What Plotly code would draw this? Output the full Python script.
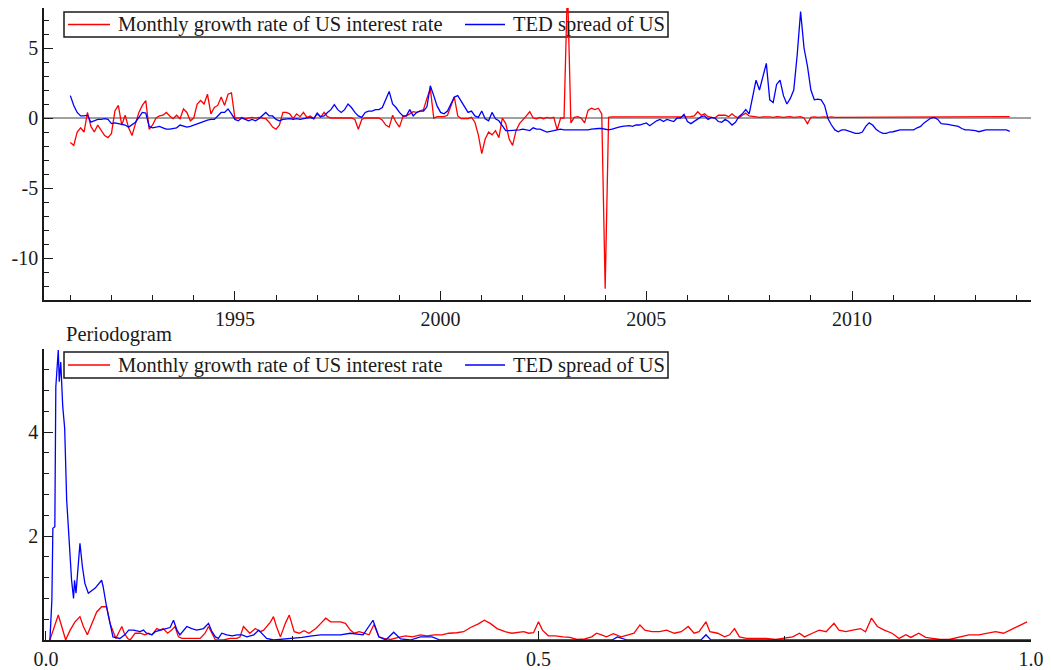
import plotly.graph_objects as go

# ---------------- Data ----------------
start_year = 1991  # monthly data, Jan 1991 .. Nov 2013

growth_us_rate = [
    # 1991
    -1.75, -1.95, -1.0, -0.7, -1.0, 0.4, -0.6, -1.0, -0.5, -0.9, -1.25, -1.4,
    # 1992
    -1.1, 0.5, 0.9, -0.5, 0.2, -0.7, -1.25, -0.4, 0.4, 0.9, 1.25, -0.8,
    # 1993
    -0.5, 0.0, 0.15, 0.2, 0.4, 0.15, -0.05, 0.2, -0.05, 0.65, 0.4, -0.2,
    # 1994
    0.0, 1.0, 1.25, 1.0, 1.7, 0.3, 0.75, 0.9, 1.5, 0.9, 1.7, 1.8,
    # 1995
    0.0, 0.0, 0.05, -0.05, 0.0, 0.05, 0.0, 0.05, 0.0, -0.05, -0.3, -0.65,
    # 1996
    -0.8, -0.5, 0.4, 0.4, 0.3, -0.05, 0.3, 0.1, 0.4, 0.05, 0.15, -0.05,
    # 1997
    0.3, 0.05, 0.4, 0.1, 0.0, 0.0, 0.0, 0.0, 0.0, 0.0, 0.0, -0.1,
    # 1998
    -0.8, -0.1, 0.0, 0.0, 0.0, 0.0, 0.0, -0.15, -0.5, -0.65, 0.2, -0.3,
    # 1999
    -0.65, 0.1, 0.15, 0.3, 0.45, 0.4, 0.5, 0.6, 1.4, 2.1, 0.0, 0.1,
    # 2000
    0.1, 0.1, 0.2, 0.9, 1.5, 0.15, -0.05, -0.05, -0.05, 0.05, -0.3, -1.2,
    # 2001
    -2.55, -1.5, -1.0, -1.2, -0.9, -1.4, 0.0, -0.4, -1.5, -1.95, -0.9, -0.4,
    # 2002
    -0.15, 0.15, 0.45, 0.0, -0.05, 0.05, -0.05, 0.05, 0.0, 0.05, -0.85, 0.0,
    # 2003
    0.0, 9.5, -0.35, 0.05, 0.1, 0.0, -0.35, 0.55, 0.7, 0.6, 0.7, 0.3,
    # 2004
    -12.2, 0.05, 0.08, 0.08, 0.1, 0.08, 0.08, 0.1, 0.08, 0.08, 0.1, 0.08,
    # 2005
    0.08, 0.1, 0.08, 0.08, 0.05, 0.08, 0.1, 0.08, 0.08, 0.1, 0.08, 0.1,
    # 2006
    0.08, 0.1, 0.15, 0.45, 0.2, 0.3, 0.1, 0.05, 0.0, 0.2, 0.2, 0.2,
    # 2007
    0.1, 0.3, 0.1, 0.0, 0.2, 0.35, 0.15, 0.1, 0.08, 0.05, 0.08, 0.1,
    # 2008
    0.08, 0.05, 0.1, 0.08, 0.05, 0.08, 0.1, 0.05, 0.08, 0.1, 0.0, -0.4,
    # 2009
    0.05, 0.08, 0.05, 0.08, 0.08, 0.05, 0.08, 0.05, 0.05, 0.08, 0.05, 0.05,
    # 2010
    0.05, 0.1, 0.08, 0.05, 0.05, 0.1, 0.1, 0.1, 0.08, 0.1, 0.1, 0.08,
    # 2011
    0.1, 0.1, 0.08, 0.1, 0.1, 0.1, 0.08, 0.1, 0.1, 0.1, 0.1, 0.1,
    # 2012
    0.1, 0.1, 0.1, 0.1, 0.05, 0.05, 0.05, 0.05, 0.05, 0.05, 0.1, 0.1,
    # 2013
    0.1, 0.1, 0.1, 0.05, 0.05, 0.1, 0.1, 0.1, 0.05, 0.1, 0.1,
]

ted_spread_us = [
    # 1991
    1.6, 0.9, 0.4, 0.15, 0.15, 0.2, -0.3, -0.2, -0.1, -0.1, -0.05, -0.1,
    # 1992
    -0.4, -0.35, -0.4, -0.4, -0.5, -0.65, -0.45, -0.3, 0.05, 0.4, 0.35, -0.6,
    # 1993
    -0.7, -0.65, -0.6, -0.7, -0.8, -0.8, -0.75, -0.7, -0.5, -0.55, -0.65, -0.6,
    # 1994
    -0.5, -0.45, -0.35, -0.25, -0.15, -0.1, -0.1, 0.15, 0.4, 0.4, 0.65, 0.3,
    # 1995
    -0.1, -0.2, 0.0, -0.1, -0.2, -0.1, -0.2, -0.05, 0.15, 0.4, 0.15, 0.15,
    # 1996
    -0.1, -0.2, -0.1, -0.05, -0.05, -0.1, -0.05, -0.1, -0.05, 0.05, 0.05, -0.05,
    # 1997
    0.35, 0.1, 0.15, 0.4, 0.6, 0.95, 0.6, 0.4, 0.6, 1.0, 0.75, 0.4,
    # 1998
    0.15, 0.05, 0.4, 0.5, 0.5, 0.6, 0.6, 0.75, 1.3, 1.9, 1.0, 0.75,
    # 1999
    0.4, 0.15, 0.15, 0.6, 0.15, 0.4, 0.5, 0.5, 0.8, 2.3, 1.6, 0.85,
    # 2000
    0.4, 0.3, 0.5, 1.0, 1.5, 1.6, 1.2, 0.8, 0.4, 0.5, 0.15, 0.05,
    # 2001
    0.5, -0.05, -0.2, 0.4, -0.05, -0.2, -0.55, -0.9, -0.9, -0.9, -0.9, -0.85,
    # 2002
    -0.8, -0.85, -0.9, -0.7, -0.8, -0.8, -0.9, -1.0, -0.95, -0.9, -0.85, -0.8,
    # 2003
    -0.85, -0.85, -0.9, -0.9, -0.85, -0.85, -0.9, -0.85, -0.8, -0.75, -0.75, -0.75,
    # 2004
    -0.8, -0.85, -0.8, -0.7, -0.65, -0.6, -0.55, -0.55, -0.6, -0.5, -0.5, -0.4,
    # 2005
    -0.35, -0.55, -0.35, -0.2, -0.1, -0.25, -0.1, -0.15, -0.25, 0.0, 0.0, 0.26,
    # 2006
    -0.25, -0.4, -0.25, -0.05, 0.1, 0.15, -0.1, 0.05, 0.0, -0.25, -0.3, -0.1,
    # 2007
    -0.25, -0.5, -0.3, 0.1, 0.3, 0.6, 0.3, 1.5, 2.7, 2.0, 2.9, 3.9,
    # 2008
    1.3, 1.1, 2.4, 2.7, 1.6, 1.0, 1.4, 2.0, 4.5, 7.6, 5.0, 3.7,
    # 2009
    2.0, 1.3, 1.35, 1.3, 0.9, -0.05, -0.5, -0.85, -0.98, -0.85, -0.85, -0.95,
    # 2010
    -1.0, -1.1, -1.1, -1.0, -0.6, -0.35, -0.5, -0.8, -0.98, -1.1, -1.1, -1.0,
    # 2011
    -0.98, -0.9, -0.85, -0.85, -0.85, -0.85, -0.85, -0.7, -0.6, -0.35, -0.2, 0.0,
    # 2012
    0.05, -0.1, -0.4, -0.4, -0.45, -0.5, -0.55, -0.6, -0.75, -0.85, -0.85, -0.85,
    # 2013
    -0.9, -0.98, -0.9, -0.85, -0.85, -0.85, -0.85, -0.85, -0.85, -0.85, -0.95,
]

# Periodogram (frequency, value) pairs
pgram_growth_freq = [
    0.004, 0.0125, 0.016, 0.020, 0.0245, 0.0295, 0.0345, 0.038, 0.042, 0.0465,
    0.0515, 0.0565, 0.0615, 0.065, 0.0685, 0.071, 0.0735, 0.077, 0.0795, 0.083,
    0.0855, 0.0905, 0.0955, 0.1005, 0.104, 0.1075, 0.1125, 0.116, 0.119, 0.1235,
    0.1275, 0.131, 0.1345, 0.138, 0.143, 0.150, 0.1565, 0.1615, 0.165, 0.1685,
    0.172, 0.180, 0.187, 0.194, 0.197, 0.2005, 0.204, 0.207, 0.2125, 0.2175,
    0.221, 0.224, 0.228, 0.231, 0.234, 0.238, 0.243, 0.247, 0.252, 0.257,
    0.262, 0.267, 0.274, 0.279, 0.284, 0.289, 0.299, 0.304, 0.309, 0.313,
    0.318, 0.323, 0.328, 0.333, 0.338, 0.343, 0.350, 0.358, 0.365, 0.372,
    0.380, 0.387, 0.394, 0.402, 0.409, 0.417, 0.424, 0.431, 0.439, 0.445,
    0.451, 0.458, 0.466, 0.473, 0.480, 0.485, 0.490, 0.495, 0.500, 0.504,
    0.510, 0.517, 0.525, 0.532, 0.539, 0.547, 0.554, 0.559, 0.564, 0.569,
    0.576, 0.584, 0.591, 0.597, 0.603, 0.608, 0.615, 0.623, 0.630, 0.638,
    0.645, 0.652, 0.658, 0.663, 0.670, 0.674, 0.682, 0.689, 0.694, 0.699,
    0.704, 0.711, 0.721, 0.731, 0.741, 0.750, 0.758, 0.765, 0.770, 0.778,
    0.785, 0.792, 0.800, 0.805, 0.812, 0.819, 0.827, 0.832, 0.838, 0.844,
    0.851, 0.859, 0.866, 0.873, 0.878, 0.886, 0.893, 0.900, 0.908, 0.917,
    0.927, 0.937, 0.947, 0.957, 0.964, 0.972, 0.979, 0.986, 0.996,
]
pgram_growth = [
    0.0, 0.48, 0.26, 0.0, 0.19, 0.35, 0.45, 0.26, 0.10, 0.32,
    0.54, 0.64, 0.64, 0.32, 0.13, 0.03, 0.13, 0.26, 0.13, 0.03,
    0.0, 0.13, 0.13, 0.10, 0.13, 0.10, 0.22, 0.19, 0.22, 0.13,
    0.19, 0.26, 0.06, 0.03, 0.03, 0.03, 0.03, 0.13, 0.26, 0.13,
    0.0, 0.0, 0.03, 0.03, 0.06, 0.26, 0.19, 0.13, 0.22, 0.16,
    0.19, 0.26, 0.35, 0.45, 0.26, 0.06, 0.32, 0.48, 0.16, 0.13,
    0.18, 0.13, 0.22, 0.32, 0.42, 0.35, 0.35, 0.32, 0.19, 0.13,
    0.16, 0.13, 0.10, 0.30, 0.06, 0.03, 0.01, 0.05, 0.08, 0.06,
    0.10, 0.08, 0.10, 0.10, 0.13, 0.14, 0.16, 0.24, 0.31, 0.38,
    0.32, 0.22, 0.16, 0.13, 0.14, 0.16, 0.13, 0.14, 0.35, 0.19,
    0.08, 0.08, 0.06, 0.05, 0.01, 0.02, 0.06, 0.13, 0.10, 0.06,
    0.12, 0.06, 0.10, 0.13, 0.29, 0.19, 0.16, 0.16, 0.19, 0.13,
    0.16, 0.26, 0.13, 0.16, 0.35, 0.16, 0.13, 0.06, 0.10, 0.22,
    0.06, 0.03, 0.03, 0.03, 0.01, 0.03, 0.06, 0.13, 0.06, 0.13,
    0.19, 0.16, 0.32, 0.19, 0.16, 0.19, 0.22, 0.16, 0.42, 0.26,
    0.19, 0.13, 0.03, 0.10, 0.05, 0.13, 0.05, 0.03, 0.01, 0.01,
    0.05, 0.10, 0.10, 0.13, 0.16, 0.13, 0.19, 0.26, 0.35,
]

pgram_ted_freq = [
    0.004, 0.006, 0.007, 0.009, 0.010, 0.0125, 0.0135, 0.015, 0.017, 0.019,
    0.021, 0.0235, 0.026, 0.028, 0.029, 0.0305, 0.033, 0.0345, 0.037, 0.0395,
    0.043, 0.050, 0.0565, 0.058, 0.0615, 0.065, 0.068, 0.075, 0.080, 0.084,
    0.089, 0.0955, 0.099, 0.102, 0.1075, 0.111, 0.116, 0.121, 0.126, 0.1295,
    0.133, 0.136, 0.143, 0.148, 0.153, 0.160, 0.165, 0.1685, 0.172, 0.175,
    0.1785, 0.1835, 0.189, 0.194, 0.199, 0.204, 0.211, 0.216, 0.219, 0.224,
    0.231, 0.245, 0.260, 0.270, 0.279, 0.299, 0.309, 0.322, 0.332, 0.338,
    0.345, 0.353, 0.360, 0.370, 0.380, 0.392, 0.400, 0.575, 0.580, 0.590,
    0.665, 0.670, 0.675, 1.0,
]
pgram_ted = [
    0.0, 0.77, 2.15, 2.18, 4.87, 5.58, 4.97, 5.35, 4.5, 4.07,
    2.7, 1.92, 1.15, 0.8, 1.15, 0.9, 1.54, 1.86, 1.41, 1.09,
    0.9, 1.0, 1.15, 1.03, 0.64, 0.32, 0.06, 0.03, 0.10, 0.19,
    0.19, 0.16, 0.19, 0.13, 0.10, 0.16, 0.19, 0.22, 0.24, 0.38,
    0.19, 0.10, 0.26, 0.22, 0.19, 0.22, 0.32, 0.16, 0.06, 0.03,
    0.13, 0.10, 0.08, 0.10, 0.10, 0.06, 0.10, 0.19, 0.13, 0.03,
    0.0, 0.02, 0.05, 0.08, 0.10, 0.10, 0.13, 0.10, 0.38, 0.06,
    0.0, 0.15, 0.02, 0.0, 0.06, 0.06, 0.0, 0.0, 0.06, 0.0,
    0.0, 0.10, 0.0, 0.0,
]

series_names = ["Monthly growth rate of US interest rate", "TED spread of US"]
panel_title = "Periodogram"
top_ticks = [1995, 2000, 2005, 2010]
top_yticks = [-10, -5, 0, 5]
bottom_xticks = [0.0, 0.5, 1.0]
bottom_yticks = [2, 4]

# ---------------- Figure ----------------
# The page body has an 8px margin, so the figure is drawn 8px smaller and all
# pixel positions below (window coordinates) are shifted by that offset.
OFF = 8
W, H = 1051 - OFF, 670 - OFF
FONT = "Liberation Serif"
INK = "#1a1a1a"
RED, BLUE = "#ff0000", "#0000ff"
COLORS = [RED, BLUE]

time_axis = [start_year + i / 12 for i in range(len(growth_us_rate))]

fig = go.Figure()
fig.add_trace(go.Scatter(x=time_axis, y=growth_us_rate, mode="lines",
                         line=dict(color=RED, width=1.3), name=series_names[0],
                         xaxis="x", yaxis="y"))
fig.add_trace(go.Scatter(x=time_axis, y=ted_spread_us, mode="lines",
                         line=dict(color=BLUE, width=1.3), name=series_names[1],
                         xaxis="x", yaxis="y"))
fig.add_trace(go.Scatter(x=pgram_growth_freq, y=pgram_growth, mode="lines",
                         line=dict(color=RED, width=1.3), name=series_names[0],
                         xaxis="x2", yaxis="y2"))
fig.add_trace(go.Scatter(x=pgram_ted_freq, y=pgram_ted, mode="lines",
                         line=dict(color=BLUE, width=1.3), name=series_names[1],
                         xaxis="x2", yaxis="y2"))


def px_x(p):
    return min(1.0, max(0.0, (p - OFF) / W))


def px_y(p):
    return min(1.0, max(0.0, 1 - (p - OFF) / H))


tickfont = dict(family=FONT, size=20, color=INK)
axis_common = dict(showline=True, linecolor=INK, linewidth=1.5, ticks="inside",
                   ticklen=9, tickwidth=1.3, tickcolor=INK, showgrid=False,
                   tickfont=tickfont, fixedrange=True, automargin=False)

# ----- hand-drawn legends (boxed, one line, like the reference) -----
shapes = []
annotations = []
LEG_FONT = dict(family=FONT, size=20.5, color=INK)
for top, bottom in [(12, 37), (352, 378)]:
    mid = (top + bottom) / 2
    shapes.append(dict(type="rect", xref="paper", yref="paper",
                       x0=px_x(64), x1=px_x(668), y0=px_y(bottom), y1=px_y(top),
                       line=dict(color=INK, width=1.5), fillcolor="white",
                       layer="below"))
    for (lx0, lx1, tx), name, col in zip([(68, 110, 116), (465, 505, 511)],
                                         series_names, COLORS):
        shapes.append(dict(type="line", xref="paper", yref="paper",
                           x0=px_x(lx0), x1=px_x(lx1), y0=px_y(mid), y1=px_y(mid),
                           line=dict(color=col, width=1.3)))
        annotations.append(dict(text=name, xref="paper", yref="paper",
                                x=px_x(tx), y=px_y(mid), xanchor="left",
                                yanchor="middle", showarrow=False,
                                font=LEG_FONT))

annotations.append(dict(text=panel_title, xref="paper", yref="paper",
                        x=px_x(64), y=px_y(334), xanchor="left",
                        yanchor="middle", showarrow=False, font=LEG_FONT))

fig.update_layout(
    width=W, height=H,
    margin=dict(l=0, r=0, t=0, b=0, autoexpand=False),
    paper_bgcolor="white", plot_bgcolor="white",
    showlegend=False,
    xaxis=dict(domain=[px_x(44), px_x(1031)], anchor="y",
               range=[1990.36, 2014.35], tickmode="array", tickvals=top_ticks,
               ticktext=[str(t) for t in top_ticks], zeroline=False,
               minor=dict(dtick=1, tick0=1990, ticks="inside", ticklen=5,
                          tickwidth=1.3, tickcolor=INK, showgrid=False),
               **axis_common),
    yaxis=dict(domain=[px_y(300), px_y(8)], anchor="x",
               range=[-13, 7.86], tickmode="array", tickvals=top_yticks,
               ticktext=[str(t) for t in top_yticks],
               zeroline=True, zerolinecolor="#a0a0a0", zerolinewidth=1.6,
               minor=dict(dtick=1, tick0=0, ticks="inside", ticklen=5,
                          tickwidth=1.3, tickcolor=INK, showgrid=False),
               **axis_common),
    xaxis2=dict(domain=[px_x(44), px_x(1031)], anchor="y2",
                range=[-0.002, 1.0], tickmode="array", tickvals=bottom_xticks,
                ticktext=["%.1f" % t for t in bottom_xticks], zeroline=False,
                minor=dict(tickvals=[0.25, 0.75], ticks="inside", ticklen=4,
                           tickwidth=1.3, tickcolor=INK, showgrid=False),
                **axis_common),
    yaxis2=dict(domain=[px_y(640), px_y(349)], anchor="x2",
                range=[0, 5.6], tickmode="array", tickvals=bottom_yticks,
                ticktext=[str(t) for t in bottom_yticks], zeroline=False,
                minor=dict(dtick=0.4, tick0=0, ticks="inside", ticklen=5,
                           tickwidth=1.3, tickcolor=INK, showgrid=False),
                **axis_common),
    shapes=shapes,
    annotations=annotations,
)

fig.write_html("out.html")
